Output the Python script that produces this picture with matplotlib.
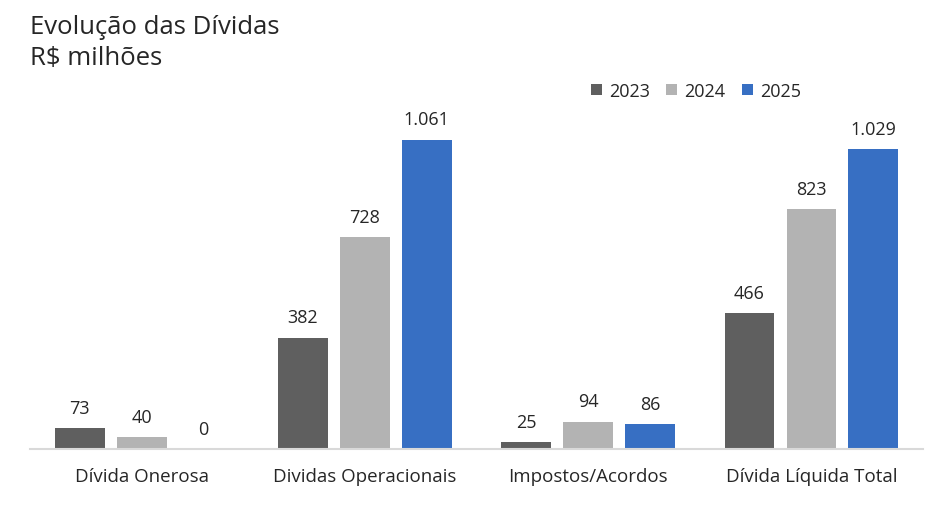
import matplotlib.pyplot as plt
import numpy as np

categorias = ["Dívida Onerosa", "Dividas Operacionais", "Impostos/Acordos", "Dívida Líquida Total"]
anos = ["2023", "2024", "2025"]
valores_2023 = [73, 382, 25, 466]
valores_2024 = [40, 728, 94, 823]
valores_2025 = [0, 1061, 86, 1029]

cores = ["#5f5f5f", "#b3b3b3", "#376fc3"]
plt.rcParams['font.family'] = ['Open Sans', 'DejaVu Sans']


def formatar(v):
    return f"{v:,}".replace(",", ".")


fig = plt.figure(figsize=(9.5, 5.06), dpi=100)
ax = fig.add_axes([0.0316, 0.1107, 0.94, 0.6917])

x = np.arange(len(categorias))
largura = 0.223
passo = 0.277
series = [valores_2023, valores_2024, valores_2025]

for i, (ano, valores) in enumerate(zip(anos, series)):
    barras = ax.bar(x + (i - 1) * passo, valores, largura, color=cores[i], label=ano)
    for b, v in zip(barras, valores):
        ax.annotate(formatar(v), (b.get_x() + b.get_width() / 2, b.get_height()),
                    xytext=(0, 8), textcoords="offset points",
                    ha="center", va="bottom", fontsize=13, color="#262626")

ax.set_xlim(-0.5, len(categorias) - 0.5)
ax.set_ylim(0, 1200)
ax.set_xticks(x)
ax.set_xticklabels(categorias, fontsize=13.5, color="#262626")
ax.tick_params(axis="x", length=0, pad=13)
ax.set_yticks([])
for lado in ["top", "right", "left"]:
    ax.spines[lado].set_visible(False)
ax.spines["bottom"].set_color("#d9d9d9")
ax.spines["bottom"].set_linewidth(1.5)

ax.legend(loc="upper left", bbox_to_anchor=(0.61, 1.095), ncol=3, frameon=False,
          fontsize=13, handlelength=0.6, handleheight=0.6, handletextpad=0.4,
          columnspacing=0.9, labelcolor="#262626")

fig.text(0.0316, 0.97, "Evolução das Dívidas", fontsize=18.5, color="#262626", va="top")
fig.text(0.0316, 0.91, "R$ milhões", fontsize=18.5, color="#262626", va="top")

fig.savefig("out.png", dpi=100)
